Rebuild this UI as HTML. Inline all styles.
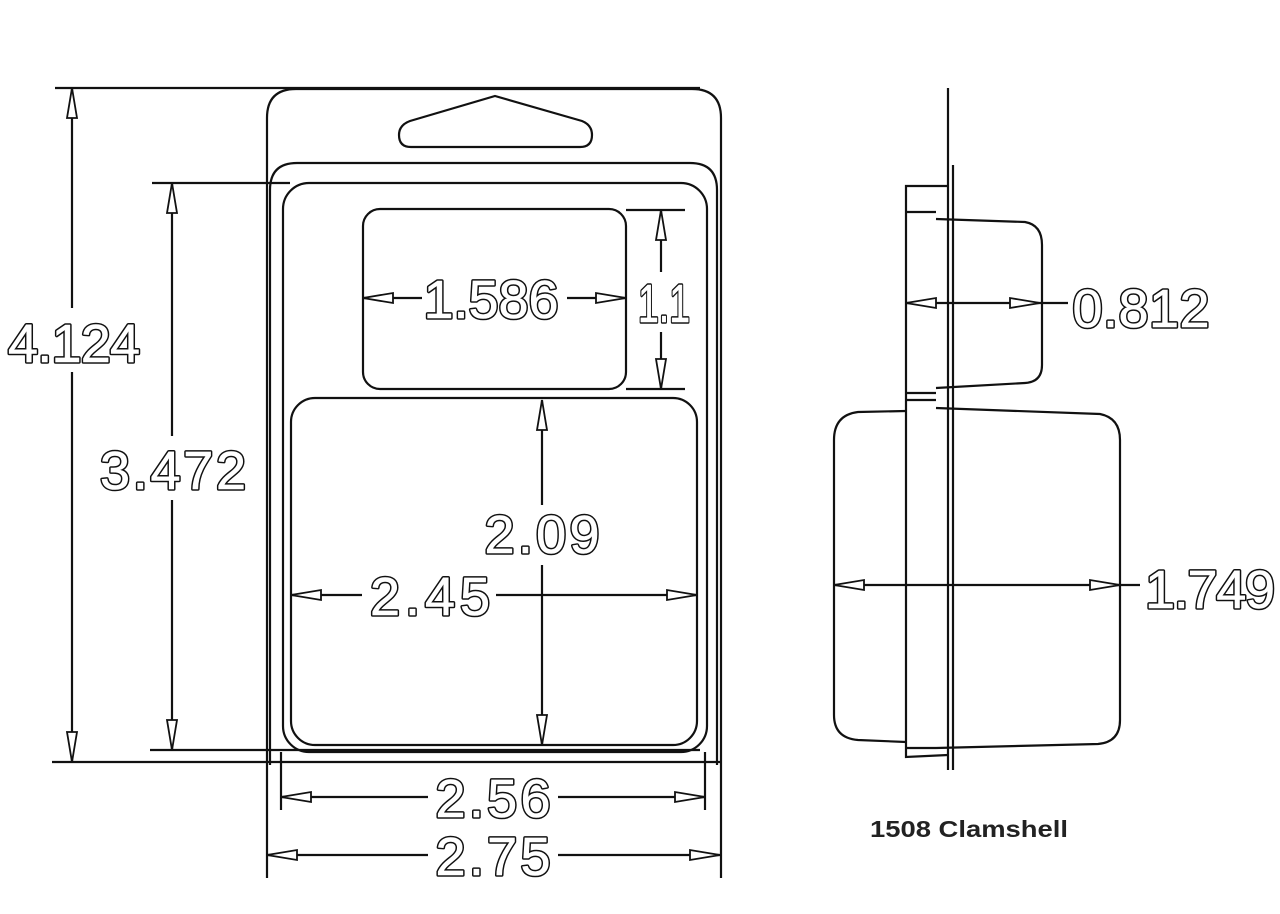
<!DOCTYPE html>
<html><head><meta charset="utf-8"><style>
html,body{margin:0;padding:0;background:#fff;}
svg{display:block}
.l{fill:none;stroke:#111;stroke-width:2.2}
.a{fill:#fff;stroke:#111;stroke-width:1.8}
.tb{font-family:"Liberation Sans",sans-serif;font-size:54px;fill:#111;stroke:#111;stroke-width:3.6;stroke-linejoin:round;text-anchor:middle}
.tw{font-family:"Liberation Sans",sans-serif;font-size:54px;fill:#fff;stroke:#fff;stroke-width:0.6;text-anchor:middle}
</style></head><body>
<svg width="1280" height="914" viewBox="0 0 1280 914" xmlns="http://www.w3.org/2000/svg">
<defs>
<g id="ar"><polygon class="a" points="0,0 30,-5 30,5"/></g>
</defs>
<path class="l" d="M267,878 V118 Q267,89 296,89 H692 Q721,89 721,118 V878"/>
<path class="l" d="M270,765 V190 Q270,163 297,163 H690 Q717,163 717,190 V765"/>
<path class="l" d="M399,135 Q399,125 410,121 L495,96 L582,121 Q592,125 592,135 Q592,147 580,147 H411 Q399,147 399,135 Z"/>
<rect class="l" x="283" y="183" width="424" height="569" rx="26"/>
<rect class="l" x="363" y="209" width="263" height="180" rx="17"/>
<rect class="l" x="291" y="398" width="406" height="347" rx="24"/>
<line class="l" x1="55" y1="88" x2="700" y2="88"/>
<line class="l" x1="52" y1="762" x2="720" y2="762"/>
<line class="l" x1="152" y1="183" x2="290" y2="183"/>
<line class="l" x1="150" y1="750" x2="700" y2="750"/>
<line class="l" x1="626" y1="210" x2="685" y2="210"/>
<line class="l" x1="626" y1="389" x2="685" y2="389"/>
<line class="l" x1="281" y1="752" x2="281" y2="810"/>
<line class="l" x1="705" y1="752" x2="705" y2="810"/>
<line class="l" x1="72" y1="88" x2="72" y2="308"/><line class="l" x1="72" y1="372" x2="72" y2="762"/>
<use href="#ar" transform="translate(72,88) rotate(90)"/><use href="#ar" transform="translate(72,762) rotate(-90)"/>
<text class="tb" x="74" y="362" textLength="132">4.124</text><text class="tw" x="74" y="362" textLength="132">4.124</text>
<line class="l" x1="172" y1="183" x2="172" y2="436"/><line class="l" x1="172" y1="500" x2="172" y2="750"/>
<use href="#ar" transform="translate(172,183) rotate(90)"/><use href="#ar" transform="translate(172,750) rotate(-90)"/>
<text class="tb" x="173" y="489" textLength="146">3.472</text><text class="tw" x="173" y="489" textLength="146">3.472</text>
<line class="l" x1="363" y1="298" x2="422" y2="298"/><line class="l" x1="567" y1="298" x2="626" y2="298"/>
<use href="#ar" transform="translate(363,298)"/><use href="#ar" transform="translate(626,298) rotate(180)"/>
<text class="tb" x="491" y="318" textLength="135">1.586</text><text class="tw" x="491" y="318" textLength="135">1.586</text>
<line class="l" x1="661" y1="210" x2="661" y2="272"/><line class="l" x1="661" y1="332" x2="661" y2="389"/>
<use href="#ar" transform="translate(661,210) rotate(90)"/><use href="#ar" transform="translate(661,389) rotate(-90)"/>
<text class="tb" x="664" y="322" textLength="52" lengthAdjust="spacingAndGlyphs">1.1</text><text class="tw" x="664" y="322" textLength="52" lengthAdjust="spacingAndGlyphs">1.1</text>
<line class="l" x1="542" y1="400" x2="542" y2="505"/><line class="l" x1="542" y1="565" x2="542" y2="745"/>
<use href="#ar" transform="translate(542,400) rotate(90)"/><use href="#ar" transform="translate(542,745) rotate(-90)"/>
<text class="tb" x="542" y="553" textLength="115">2.09</text><text class="tw" x="542" y="553" textLength="115">2.09</text>
<line class="l" x1="291" y1="595" x2="362" y2="595"/><line class="l" x1="496" y1="595" x2="697" y2="595"/>
<use href="#ar" transform="translate(291,595)"/><use href="#ar" transform="translate(697,595) rotate(180)"/>
<text class="tb" x="430" y="615" textLength="120">2.45</text><text class="tw" x="430" y="615" textLength="120">2.45</text>
<line class="l" x1="281" y1="797" x2="428" y2="797"/><line class="l" x1="558" y1="797" x2="705" y2="797"/>
<use href="#ar" transform="translate(281,797)"/><use href="#ar" transform="translate(705,797) rotate(180)"/>
<text class="tb" x="493" y="817" textLength="115">2.56</text><text class="tw" x="493" y="817" textLength="115">2.56</text>
<line class="l" x1="267" y1="855" x2="428" y2="855"/><line class="l" x1="558" y1="855" x2="720" y2="855"/>
<use href="#ar" transform="translate(267,855)"/><use href="#ar" transform="translate(720,855) rotate(180)"/>
<text class="tb" x="493" y="875" textLength="115">2.75</text><text class="tw" x="493" y="875" textLength="115">2.75</text>
<line class="l" x1="948" y1="88" x2="948" y2="770"/>
<line class="l" x1="953" y1="165" x2="953" y2="770"/>
<path class="l" d="M948,186 L906,186 V757 L948,755"/>
<path class="l" d="M936,219 L1025,222 Q1042,225 1042,245 V365 Q1042,382 1025,383 L936,388"/>
<path class="l" d="M936,408 L1100,414 Q1120,418 1120,440 V720 Q1120,742 1098,744 L936,748"/>
<path class="l" d="M906,411 L858,412 Q834,415 834,440 V715 Q834,738 858,740 L906,742"/>
<line class="l" x1="906" y1="212" x2="936" y2="212"/>
<line class="l" x1="906" y1="393" x2="936" y2="393"/>
<line class="l" x1="906" y1="400" x2="936" y2="400"/>
<line class="l" x1="906" y1="748" x2="936" y2="748"/>
<line class="l" x1="906" y1="303" x2="1068" y2="303"/>
<use href="#ar" transform="translate(906,303)"/><use href="#ar" transform="translate(1040,303) rotate(180)"/>
<text class="tb" x="1141" y="327" textLength="137">0.812</text><text class="tw" x="1141" y="327" textLength="137">0.812</text>
<line class="l" x1="834" y1="585" x2="1140" y2="585"/>
<use href="#ar" transform="translate(834,585)"/><use href="#ar" transform="translate(1120,585) rotate(180)"/>
<text class="tb" x="1210" y="608" textLength="130">1.749</text><text class="tw" x="1210" y="608" textLength="130">1.749</text>
<text x="870" y="837" font-family="Liberation Sans, sans-serif" font-weight="bold" font-size="23" fill="#222" textLength="198" lengthAdjust="spacingAndGlyphs">1508 Clamshell</text>
</svg>
</body></html>
